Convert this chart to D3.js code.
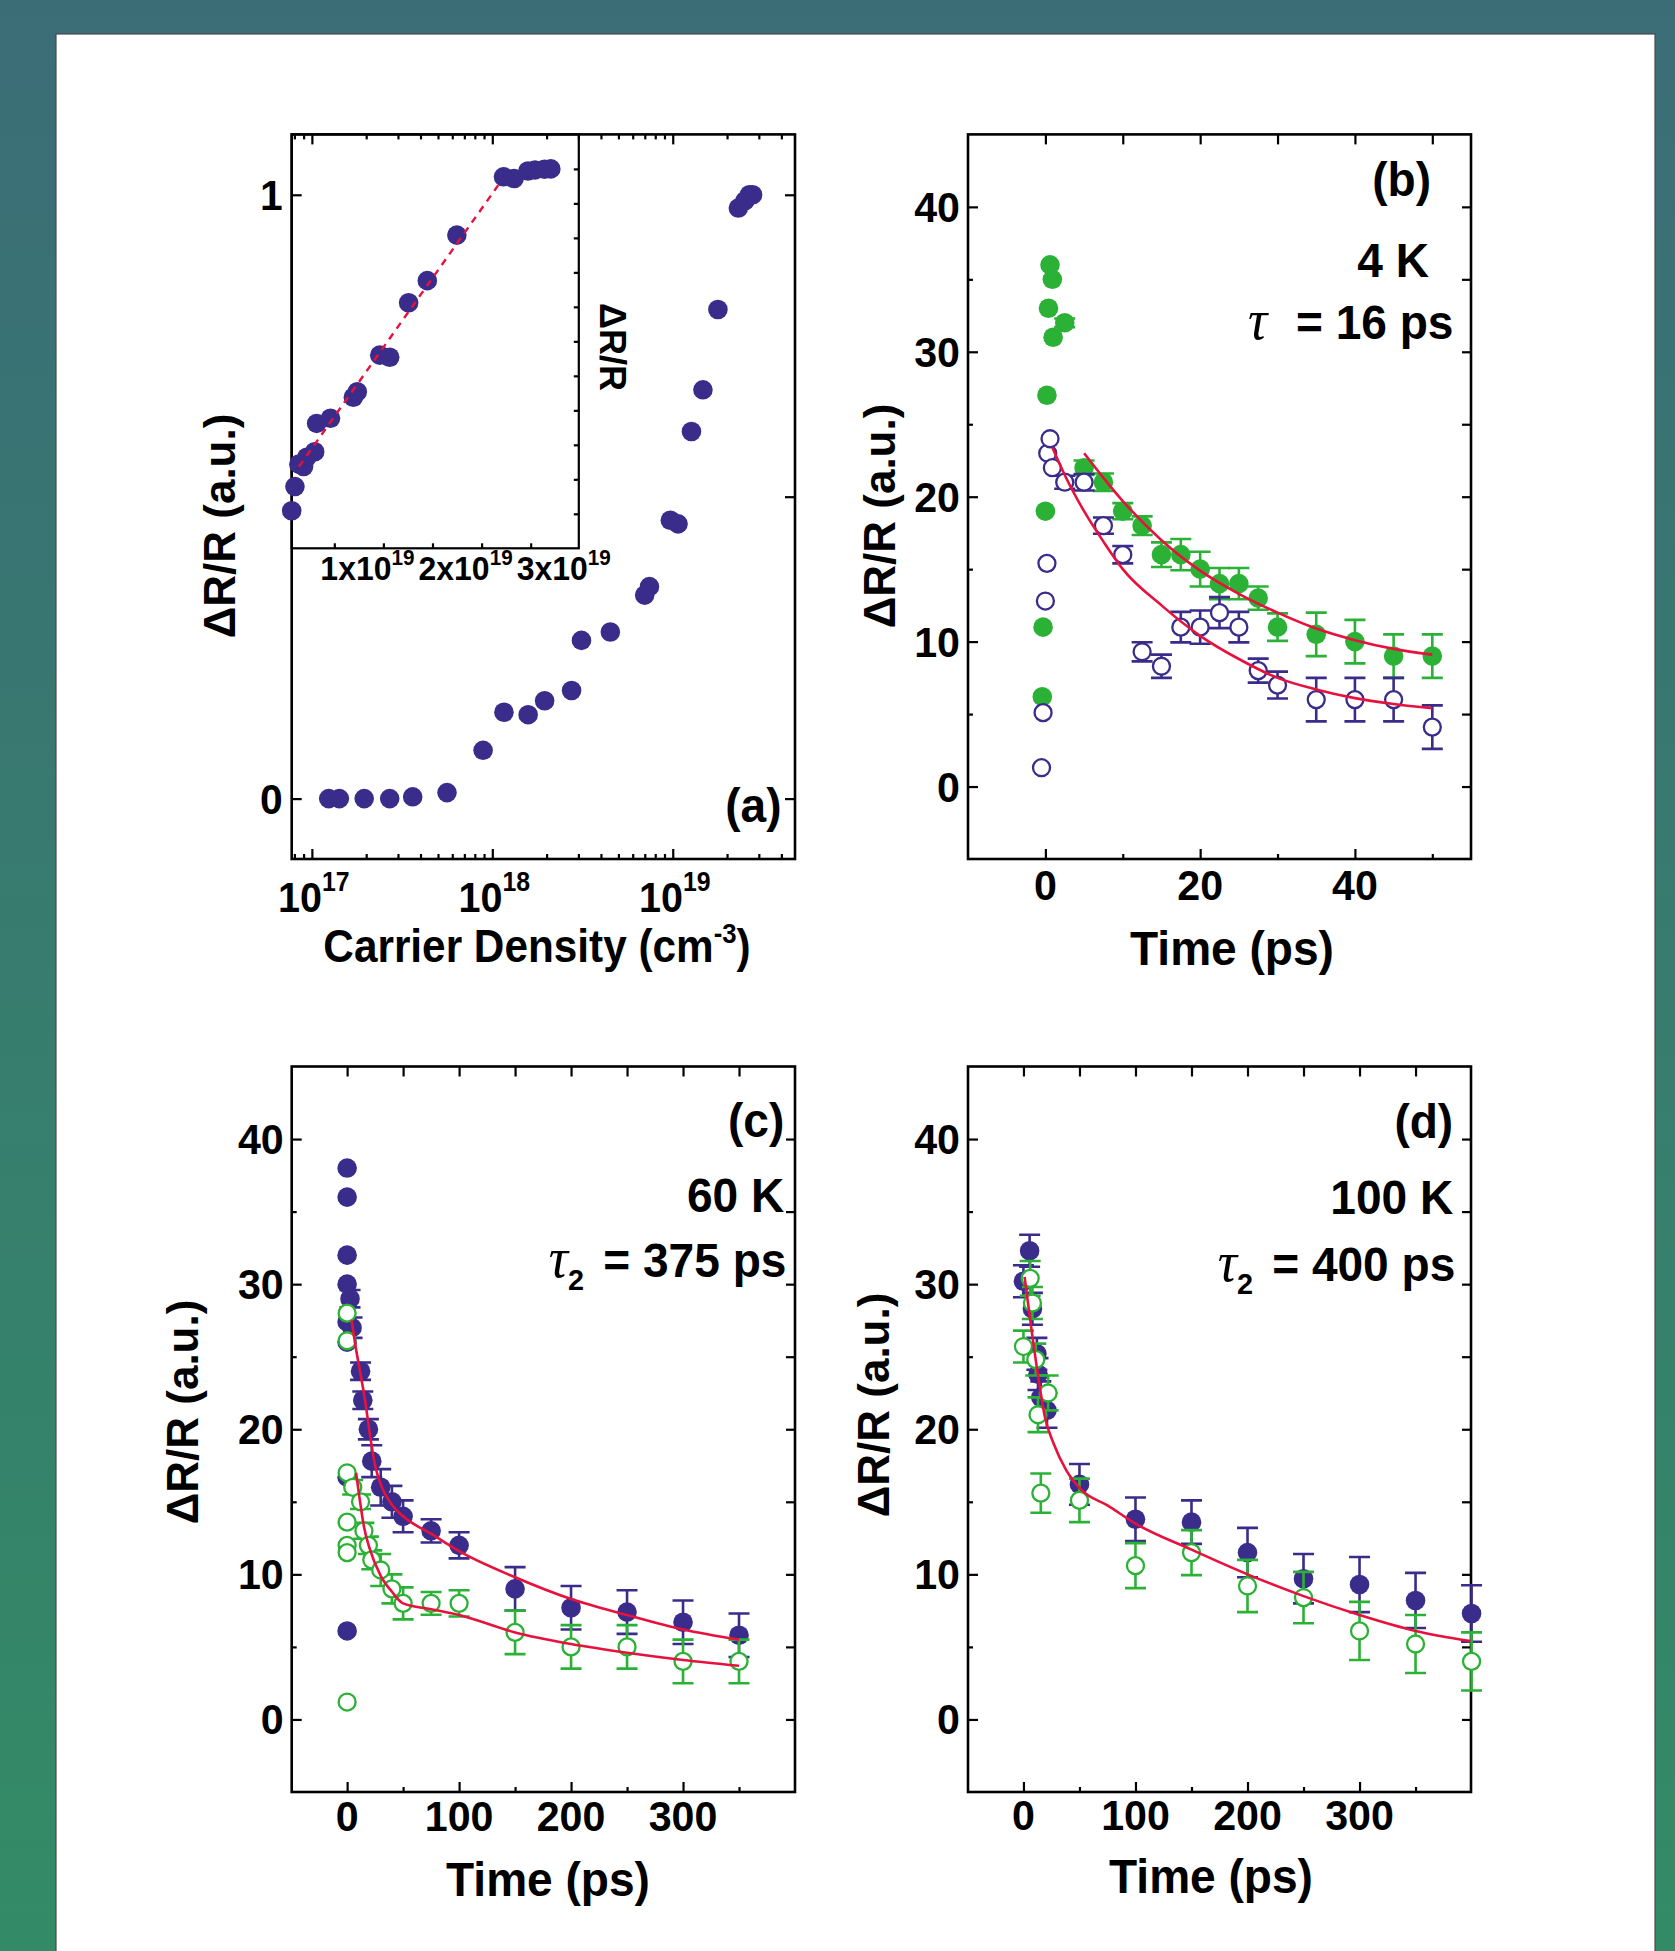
<!DOCTYPE html>
<html>
<head>
<meta charset="utf-8">
<script src="https://cdn.jsdelivr.net/npm/d3@7"></script>
<style>
  html, body { margin: 0; padding: 0; }
  body { width: 1675px; height: 1951px; overflow: hidden; }
  svg text { font-family: "Liberation Sans", Arial, sans-serif; font-weight: bold; fill: #000; }
</style>
</head>
<body>
<svg id="fig" width="1675" height="1951"></svg>
<script>
var NAVY = "#3a2c8a", GREEN = "#2bb236", RED = "#e8113d";

// (a) signal vs carrier density (log axis)
var densA = [1.24e17, 1.42e17, 1.95e17, 2.70e17, 3.62e17, 5.61e17, 8.89e17, 1.16e18, 1.58e18, 1.95e18, 2.75e18, 3.12e18,
             4.51e18, 6.99e18, 7.43e18, 9.7e18, 1.07e19, 1.27e19, 1.47e19, 1.78e19, 2.31e19, 2.51e19, 2.66e19, 2.77e19];
var signalA = [0, 0, 0, 0, 0.003, 0.01, 0.08, 0.143, 0.139, 0.162, 0.179, 0.262,
               0.276, 0.337, 0.351, 0.461, 0.455, 0.608, 0.677, 0.81, 0.978, 0.99, 1.0, 1.0];
var decadeLabels = [17, 18, 19];

// (a) inset, density in units of 1e19 cm^-3
var insetDens = [0.066, 0.099, 0.139, 0.187, 0.22, 0.30, 0.32, 0.461, 0.694, 0.734, 0.963, 1.064, 1.257, 1.447, 1.748,
                 2.223, 2.331, 2.472, 2.544, 2.641, 2.705];
var insetSignal = [0.109, 0.179, 0.244, 0.237, 0.264, 0.280, 0.362, 0.377, 0.438, 0.454, 0.560, 0.554, 0.712, 0.776, 0.908,
                   1.077, 1.072, 1.094, 1.097, 1.099, 1.100];
var insetFitDens = [0.14, 2.17];
var insetFitSignal = [0.237, 1.053];
var insetTickLabels = [1, 2, 3];

// (b) 4 K
var tB_green = [-0.4, -0.3, 0, 0.2, 0.4, 0.6, 0.9, 1.0, 2.5, 5, 7.5, 10, 12.5, 15, 17.5, 20, 22.5, 25, 27.5, 30, 35, 40, 45, 50];
var vB_green = [6.2, 11, 19, 27, 33, 36, 35, 31, 32, 22, 21, 19, 18, 16, 16, 15, 14, 14, 13, 11, 10.5, 10, 9, 9];
var eB_green = [0, 0, 0, 0, 0, 0, 0, 0, 0.3, 0.5, 0.6, 0.56, 0.64, 0.85, 1.08, 1.2, 1.08, 1.08, 0.8, 0.95, 1.5, 1.5, 1.5, 1.5];
var tB_blue = [-0.5, -0.3, 0, 0.2, 0.3, 0.6, 0.9, 2.5, 5, 7.5, 10, 12.5, 15, 17.5, 20, 22.5, 25, 27.5, 30, 35, 40, 45, 50];
var vB_blue = [1.3, 5.1, 12.8, 15.4, 23, 24, 22, 21, 21, 18, 16, 9.3, 8.3, 11, 11, 12, 11, 8, 7, 6, 6, 6, 4.1];
var eB_blue = [0, 0, 0, 0, 0, 0, 0, 0.45, 0.57, 0.56, 0.6, 0.66, 0.8, 1.05, 1.15, 1.07, 1.05, 0.83, 0.93, 1.5, 1.5, 1.5, 1.5];
var fitB_blueT = [0.9, 2.5, 5, 7.5, 10, 15, 20, 25, 30, 35, 40, 45, 50];
var fitB_blueV = [23.4, 21.5, 19.0, 16.9, 15.0, 12.5, 10.4, 8.8, 7.5, 6.7, 6.1, 5.7, 5.4];
var fitB_greenT = [5, 7.5, 10, 15, 20, 25, 30, 35, 40, 45, 50];
var fitB_greenV = [23.0, 21.3, 19.7, 17.0, 14.9, 13.3, 12.0, 10.9, 10.1, 9.5, 9.1];

// (c) 60 K
var tC_blue = [0, 0, 0, 0, 2.6, 0, 4.4, 0, 12, 14, 19, 22, 0, 30, 40, 50, 75, 100, 150, 200, 250, 300, 350, 0];
var vC_blue = [38, 36, 32, 30, 29, 27.4, 27, 26, 24, 22, 20, 17.8, 16.7, 16, 15, 14, 13, 12, 9, 7.7, 7.4, 6.7, 5.8, 6.1];
var eC_blue = [0, 0, 0, 0, 0.6, 0, 0.7, 0, 0.6, 0.6, 0.7, 1.1, 0, 1.25, 1.1, 1.1, 0.8, 0.9, 1.5, 1.5, 1.5, 1.5, 1.5, 0];
var tC_green = [0, 0, 0, 5, 12, 0, 15, 0, 0, 19, 22, 30, 40, 50, 75, 100, 150, 200, 250, 300, 350, 0];
var vC_green = [28, 26.1, 17, 16, 15, 13.6, 13, 12, 11.5, 12, 11, 10.3, 9, 8, 8, 8, 6, 5, 5, 4, 4, 1.2];
var eC_green = [0, 0, 0, 0.5, 0.5, 0, 0.55, 0, 0, 0.6, 0.65, 1.1, 1.0, 1.1, 0.78, 0.9, 1.5, 1.5, 1.5, 1.5, 1.5, 0];
var fitC_blueT = [4, 8, 12, 16, 21, 25, 30, 40, 50, 75, 100, 150, 200, 250, 300, 350];
var fitC_blueV = [27.5, 25.5, 23.8, 22, 19.3, 17.5, 16.2, 14.8, 14.0, 12.8, 11.6, 9.8, 8.3, 7.2, 6.2, 5.5];
var fitC_greenT = [8, 11, 15, 20, 30, 40, 50, 75, 100, 150, 200, 250, 300, 350];
var fitC_greenV = [17, 15.3, 13.3, 11.8, 9.9, 8.8, 8.0, 7.6, 7.2, 6.0, 5.2, 4.6, 4.1, 3.7];

// (d) 100 K
var tD_blue = [0, 5.5, 8, 12, 13, 15.5, 21, 50, 100, 150, 200, 250, 300, 350, 400];
var vD_blue = [30.2, 32.3, 28.3, 25.2, 23.8, 22.2, 21.3, 16.2, 13.8, 13.6, 11.5, 9.7, 9.3, 8.2, 7.3];
var eD_blue = [1.1, 1.1, 1.1, 1.1, 1.1, 1.1, 1.2, 1.4, 1.5, 1.5, 1.7, 1.7, 1.9, 1.9, 1.95];
var tD_green = [0, 6, 8, 11, 13, 15.5, 22, 50, 100, 150, 200, 250, 300, 350, 400];
var vD_green = [25.7, 30.4, 28.7, 24.8, 21, 15.6, 22.5, 15.1, 10.6, 11.5, 9.2, 8.4, 6.1, 5.2, 4.0];
var eD_green = [1.1, 1.2, 1.1, 1.1, 1.2, 1.35, 1.2, 1.5, 1.55, 1.55, 1.8, 1.77, 2.0, 2.0, 2.0];
var fitD_T = [1, 8, 14, 19, 27, 38, 52, 75, 100, 150, 200, 250, 300, 350, 399];
var fitD_V = [30.5, 26.4, 23.2, 20.9, 19.0, 17.2, 15.8, 14.75, 13.5, 11.7, 10.0, 8.5, 7.2, 6.1, 5.4];

var timeTicksB = [0, 20, 40];
var timeTicksCD = [0, 100, 200, 300];
var signalTicks = [0, 10, 20, 30, 40];

// ---------------------------------------------------------------
var svg = d3.select("#fig");
var grad = svg.append("defs").append("linearGradient").attr("id", "bg")
  .attr("x1", 0).attr("y1", 0).attr("x2", 0).attr("y2", 1);
grad.append("stop").attr("offset", "0%").attr("stop-color", "#3b6d77");
grad.append("stop").attr("offset", "100%").attr("stop-color", "#338b66");
svg.append("rect").attr("width", 1675).attr("height", 1951).attr("fill", "url(#bg)");
svg.append("rect").attr("x", 56).attr("y", 34).attr("width", 1599).attr("height", 1940)
  .attr("fill", "#fff").attr("stroke", "#4a4a4a").attr("stroke-width", 1.2);

function zip(xs, ys, es) {
  return xs.map(function(x, i) { return {x: x, y: ys[i], e: es ? es[i] : 0}; });
}

function tickSet(g, axis, scale, values, size, tx, ty) {
  var a = g.append("g").attr("transform", "translate(" + tx + "," + ty + ")")
    .call(axis(scale).tickValues(values).tickSize(size).tickFormat(""));
  a.select(".domain").remove();
  a.selectAll("line").attr("stroke", "#000").attr("stroke-width", 2.2);
}

function label(g, x, y, str, size, anchor, sx) {
  return g.append("text")
    .attr("transform", "translate(" + x + "," + y + ") scale(" + (sx || 1) + ",1)")
    .attr("text-anchor", anchor || "middle")
    .attr("font-size", size)
    .text(str);
}

function yTitle(g, x, y, str, size) {
  g.append("text").attr("transform", "translate(" + x + "," + y + ") rotate(-90)")
    .attr("text-anchor", "middle").attr("font-size", size).text(str);
}

function frame(g, box, w) {
  g.append("rect").attr("x", box.l).attr("y", box.t).attr("width", box.r - box.l).attr("height", box.b - box.t)
    .attr("fill", "none").attr("stroke", "#000").attr("stroke-width", w || 2.6);
}

function series(g, x, y, pts, color, open) {
  var withErr = pts.filter(function(d) { return d.e > 0; });
  g.append("g").selectAll("path").data(withErr).enter().append("path")
    .attr("fill", "none").attr("stroke", color).attr("stroke-width", 2.6)
    .attr("d", function(d) {
      var cx = x(d.x), y1 = y(d.y + d.e), y2 = y(d.y - d.e);
      return "M" + (cx - 10.5) + "," + y1 + "H" + (cx + 10.5) + "M" + (cx - 10.5) + "," + y2 + "H" + (cx + 10.5) +
             "M" + cx + "," + y1 + "V" + y2;
    });
  g.append("g").selectAll("circle").data(pts).enter().append("circle")
    .attr("cx", function(d) { return x(d.x); })
    .attr("cy", function(d) { return y(d.y); })
    .attr("r", open ? 8.5 : 9.8)
    .attr("fill", open ? "#fff" : color)
    .attr("stroke", color).attr("stroke-width", open ? 2.3 : 0);
}

function fitLine(g, x, y, ts, vs, dash) {
  var line = d3.line().x(function(d) { return x(d.x); }).y(function(d) { return y(d.y); }).curve(d3.curveMonotoneX);
  var p = g.append("path").datum(zip(ts, vs)).attr("fill", "none").attr("stroke", RED)
    .attr("stroke-width", dash ? 2.4 : 2.6).attr("d", line);
  if (dash) p.attr("stroke-dasharray", dash);
}

function tauLabel(g, xr, y, sub, rest) {
  var t = g.append("text").attr("transform", "translate(" + xr + "," + y + ") scale(0.96,1)")
    .attr("text-anchor", "end").attr("font-size", 48);
  t.append("tspan").attr("font-family", "'Liberation Serif', serif").attr("font-style", "italic")
    .attr("font-weight", "normal").attr("font-size", 56).text("τ");
  if (sub) {
    t.append("tspan").attr("font-size", 30).attr("dy", 13).text(sub);
    t.append("tspan").attr("dy", -13).attr("dx", 20).text("= " + rest);
  } else {
    t.append("tspan").attr("dx", 30).text("= " + rest);
  }
}

// ---------------- panel (a) ----------------
(function() {
  var box = {l: 291.7, t: 134.4, r: 795, b: 859};
  var g = svg.append("g");
  var x = d3.scaleLog().domain([7.73e16, 4.76e19]).range([box.l, box.r]);
  var y = d3.scaleLinear().domain([-0.1, 1.1]).range([box.b, box.t]);

  var major = [1e17, 1e18, 1e19], minor = [];
  [16, 17, 18, 19].forEach(function(p) {
    for (var m = 2; m <= 9; m++) {
      var v = m * Math.pow(10, p);
      if (v > 7.73e16 && v < 4.76e19) minor.push(v);
    }
  });
  tickSet(g, d3.axisBottom, x, major, -10, 0, box.b);
  tickSet(g, d3.axisBottom, x, minor, -5, 0, box.b);
  tickSet(g, d3.axisTop, x, major, -10, 0, box.t);
  tickSet(g, d3.axisTop, x, minor, -5, 0, box.t);
  tickSet(g, d3.axisLeft, y, [0, 1], -10, box.l, 0);
  tickSet(g, d3.axisRight, y, [0, 0.5, 1], -10, box.r, 0);
  frame(g, box);

  decadeLabels.forEach(function(p) {
    var t = label(g, x(Math.pow(10, p)) + 2, 911.7, "", 43, "middle", 0.92);
    t.append("tspan").text("10");
    t.append("tspan").attr("font-size", 27).attr("dy", -21).text(p);
  });
  [0, 1].forEach(function(v) {
    label(g, box.l - 9, y(v) + 15.5, String(v), 43, "end", 0.95);
  });
  var xt = label(g, 537, 962, "Carrier Density (cm", 46, "middle", 0.92);
  xt.append("tspan").attr("font-size", 28).attr("dy", -19).text("-3");
  xt.append("tspan").attr("font-size", 46).attr("dy", 19).text(")");
  yTitle(g, 235, 526, "ΔR/R (a.u.)", 44);
  label(g, 781.5, 822, "(a)", 48, "end", 0.96);

  series(g, x, y, zip(densA, signalA), NAVY, false);

  // inset
  var ib = {l: 291.7, t: 134.4, r: 578.8, b: 548.3};
  var ix = d3.scaleLinear().domain([0.066, 2.99]).range([ib.l, ib.r]);
  var iy = d3.scaleLinear().domain([0, 1.2]).range([ib.b, ib.t]);
  tickSet(g, d3.axisBottom, ix, [0.5, 1, 1.5, 2, 2.5], -5, 0, ib.b);
  tickSet(g, d3.axisRight, iy, d3.range(1, 12).map(function(k) { return k / 10; }), -5, ib.r, 0);
  frame(g, ib, 2.2);
  insetTickLabels.forEach(function(v) {
    var t = label(g, ix(v) - 16, 580, "", 34, "middle", 0.94);
    t.append("tspan").text(v + "x10");
    t.append("tspan").attr("font-size", 22).attr("dy", -15).text("19");
  });
  g.append("text").attr("transform", "translate(600,347) rotate(90)")
    .attr("text-anchor", "middle").attr("font-size", 36).text("ΔR/R");
  series(g, ix, iy, zip(insetDens, insetSignal), NAVY, false);
  fitLine(g, ix, iy, insetFitDens, insetFitSignal, "7,6");
})();

// ---------------- time panels ----------------
function timePanel(opt) {
  var box = opt.box;
  var g = svg.append("g");
  var x = d3.scaleLinear().domain(opt.xDomain).range([box.l, box.r]);
  var y = d3.scaleLinear().domain([-5, 45]).range([box.b, box.t]);
  tickSet(g, d3.axisBottom, x, opt.xMajor, -10, 0, box.b);
  tickSet(g, d3.axisBottom, x, opt.xMinor, -5, 0, box.b);
  tickSet(g, d3.axisTop, x, opt.xMajor.concat(opt.xMinor), -10, 0, box.t);
  tickSet(g, d3.axisLeft, y, signalTicks, -10, box.l, 0);
  tickSet(g, d3.axisLeft, y, [5, 15, 25, 35], -5, box.l, 0);
  tickSet(g, d3.axisRight, y, [0, 5, 10, 15, 20, 25, 30, 35, 40], -9, box.r, 0);
  frame(g, box);

  opt.xMajor.forEach(function(v) {
    label(g, x(v), opt.tickBase, String(v), 42, "middle", 0.98);
  });
  signalTicks.forEach(function(v) {
    label(g, box.l - 8, y(v) + 15, String(v), 42, "end", 0.98);
  });
  label(g, opt.xTitle[0], opt.xTitle[1], "Time (ps)", 48, "middle", 0.96);
  yTitle(g, opt.yTitle[0], opt.yTitle[1], "ΔR/R (a.u.)", 44);

  opt.sets.forEach(function(s) { series(g, x, y, s.pts, s.color, s.open); });
  opt.fits.forEach(function(f) { fitLine(g, x, y, f[0], f[1]); });

  label(g, opt.tag[0], opt.tag[1], opt.tag[2], 48, "end", 0.96);
  label(g, opt.temp[0], opt.temp[1], opt.temp[2], 48, "end", 0.96);
  tauLabel(g, opt.tau[0], opt.tau[1], opt.tau[2], opt.tau[3]);
}

timePanel({
  box: {l: 968, t: 134.4, r: 1471, b: 859},
  xDomain: [-10, 55], xMajor: timeTicksB, xMinor: [10, 30, 50], tickBase: 900,
  xTitle: [1232, 965], yTitle: [895, 516],
  sets: [{pts: zip(tB_green, vB_green, eB_green), color: GREEN, open: false},
         {pts: zip(tB_blue, vB_blue, eB_blue), color: NAVY, open: true}],
  fits: [[fitB_blueT, fitB_blueV], [fitB_greenT, fitB_greenV]],
  tag: [1431, 196, "(b)"], temp: [1429, 277, "4 K"], tau: [1453.5, 339, "", "16 ps"]
});

timePanel({
  box: {l: 291.7, t: 1066.5, r: 795, b: 1792},
  xDomain: [-49.5, 400], xMajor: timeTicksCD, xMinor: [50, 150, 250, 350], tickBase: 1831,
  xTitle: [548, 1896], yTitle: [198, 1412],
  sets: [{pts: zip(tC_blue, vC_blue, eC_blue), color: NAVY, open: false},
         {pts: zip(tC_green, vC_green, eC_green), color: GREEN, open: true}],
  fits: [[fitC_blueT, fitC_blueV], [fitC_greenT, fitC_greenV]],
  tag: [784.3, 1137, "(c)"], temp: [784.3, 1212, "60 K"], tau: [786.4, 1277, "2", "375 ps"]
});

timePanel({
  box: {l: 968, t: 1066.5, r: 1471, b: 1792},
  xDomain: [-49.5, 399.5], xMajor: timeTicksCD, xMinor: [50, 150, 250, 350], tickBase: 1830,
  xTitle: [1211, 1893], yTitle: [889, 1405],
  sets: [{pts: zip(tD_blue, vD_blue, eD_blue), color: NAVY, open: false},
         {pts: zip(tD_green, vD_green, eD_green), color: GREEN, open: true}],
  fits: [[fitD_T, fitD_V]],
  tag: [1453.2, 1138, "(d)"], temp: [1453.2, 1214, "100 K"], tau: [1455.3, 1281, "2", "400 ps"]
});
</script>
</body>
</html>
